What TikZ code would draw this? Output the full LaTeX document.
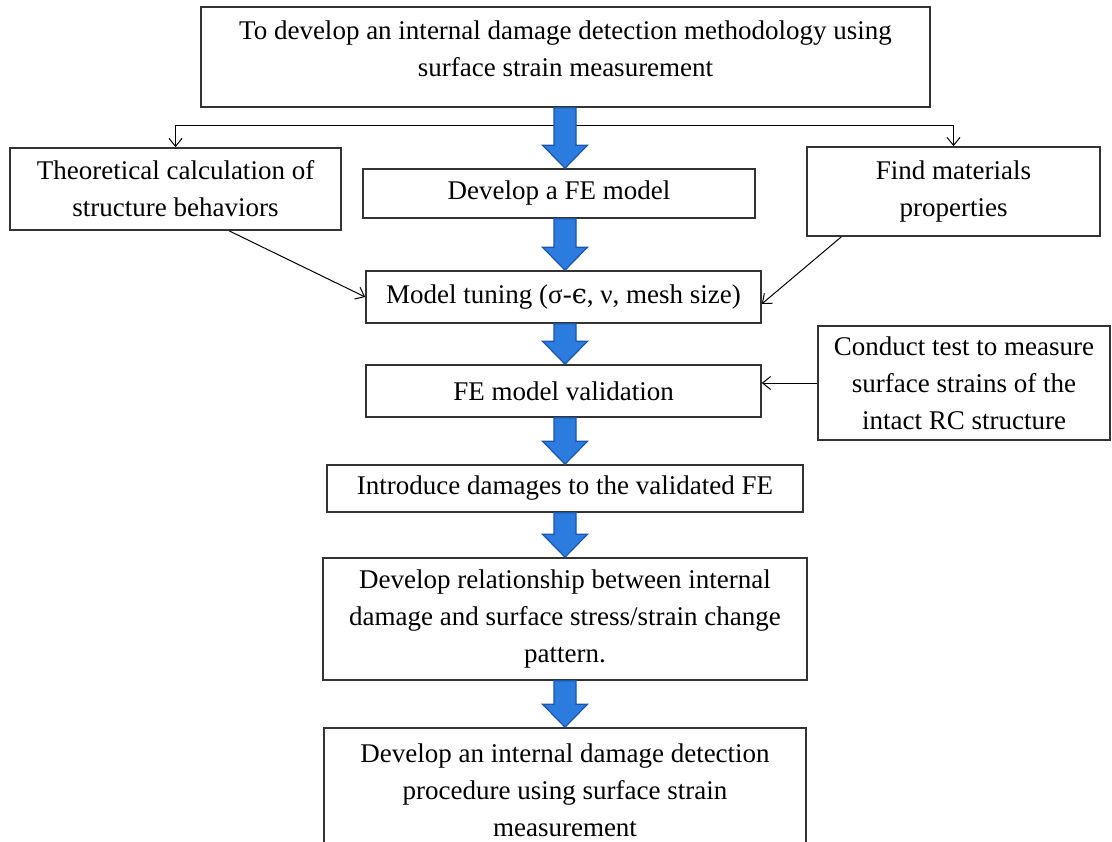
\documentclass[tikz,border=0pt]{standalone}
\usepackage{fontspec}
\setmainfont{Liberation Serif}
\newfontfamily\greekfont{DejaVu Serif}
\usepackage{tikz}
\usetikzlibrary{arrows.meta, positioning, calc}

\definecolor{flowblue}{RGB}{44,124,224}
\definecolor{flowedge}{RGB}{28,86,170}

\begin{document}
\begin{tikzpicture}[x=0.5pt, y=-0.5pt,
    every node/.style={font=\fontsize{13.5}{18.5}\selectfont},
    box/.style={draw=black!80, line width=0.8pt, align=center, inner sep=0pt},
    conn/.style={line width=0.5pt, -{Straight Barb[length=4pt, width=6.5pt]}},
    bigarrow/.style={fill=flowblue, draw=flowedge, line width=0.6pt}]
    \useasboundingbox (0,0) rectangle (1112,841);
    \clip (0,0) rectangle (1112,841);
    % Objetivo
    \node[box, minimum width=364.5pt, minimum height=50pt, text depth=8pt] (goal) at (565.5,57)
        {To develop an internal damage detection methodology using\\surface strain measurement};
    % Entradas
    \node[box, minimum width=165.5pt, minimum height=41pt] (theory) at (175.5,189)
        {Theoretical calculation of\\structure behaviors};
    \node[box, minimum width=146.5pt, minimum height=44.5pt] (materials) at (953.5,191.5)
        {Find materials\\properties};
    \node[box, minimum width=146pt, minimum height=57pt] (test) at (964,383)
        {Conduct test to measure\\surface strains of the\\intact RC structure};
    % Etapas
    \node[box, minimum width=196pt, minimum height=24.5pt] (femodel) at (559,193.5)
        {Develop a FE model};
    \node[box, minimum width=197.5pt, minimum height=26pt] (tuning) at (563.5,297)
        {Model tuning (σ-{\greekfont ϵ}, ν, mesh size)};
    \node[box, minimum width=197.5pt, minimum height=26pt] (valid) at (563.5,391)
        {FE model validation};
    \node[box, minimum width=238pt, minimum height=23.5pt] (damage) at (565,488.5)
        {Introduce damages to the validated FE};
    \node[box, minimum width=242pt, minimum height=61pt] (relation) at (565,619)
        {Develop relationship between internal\\damage and surface stress/strain change\\pattern.};
    \node[box, minimum width=241pt, minimum height=66pt, text depth=4pt] (procedure) at (565,794)
        {Develop an internal damage detection\\procedure using surface strain\\measurement};
    % Ligacoes
    \coordinate (split) at (565,125);
    \draw[conn] (split) -| (theory);
    \draw[conn] (split) -| (materials);
    \draw[conn] (theory.-38) -- (tuning.west);
    \draw[conn] (materials.202) -- (tuning.-2);
    \draw[conn] (test.west) -- (test.west -| valid.east);
    % Setas azuis
    \coordinate (spine) at (565,0);
    \foreach \a/\b in {goal/femodel, femodel/tuning, tuning/valid, valid/damage, damage/relation, relation/procedure}{
        \path[bigarrow] let \p1=(\a.south), \p2=(\b.north), \p3=(spine) in
            (\x3-5.5pt,\y1) -- (\x3+5.5pt,\y1) -- (\x3+5.5pt,\y2+11.5pt) -- (\x3+11.25pt,\y2+11.5pt)
            -- (\x3,\y2) -- (\x3-11.25pt,\y2+11.5pt) -- (\x3-5.5pt,\y2+11.5pt) -- cycle;
    }
\end{tikzpicture}
\end{document}
